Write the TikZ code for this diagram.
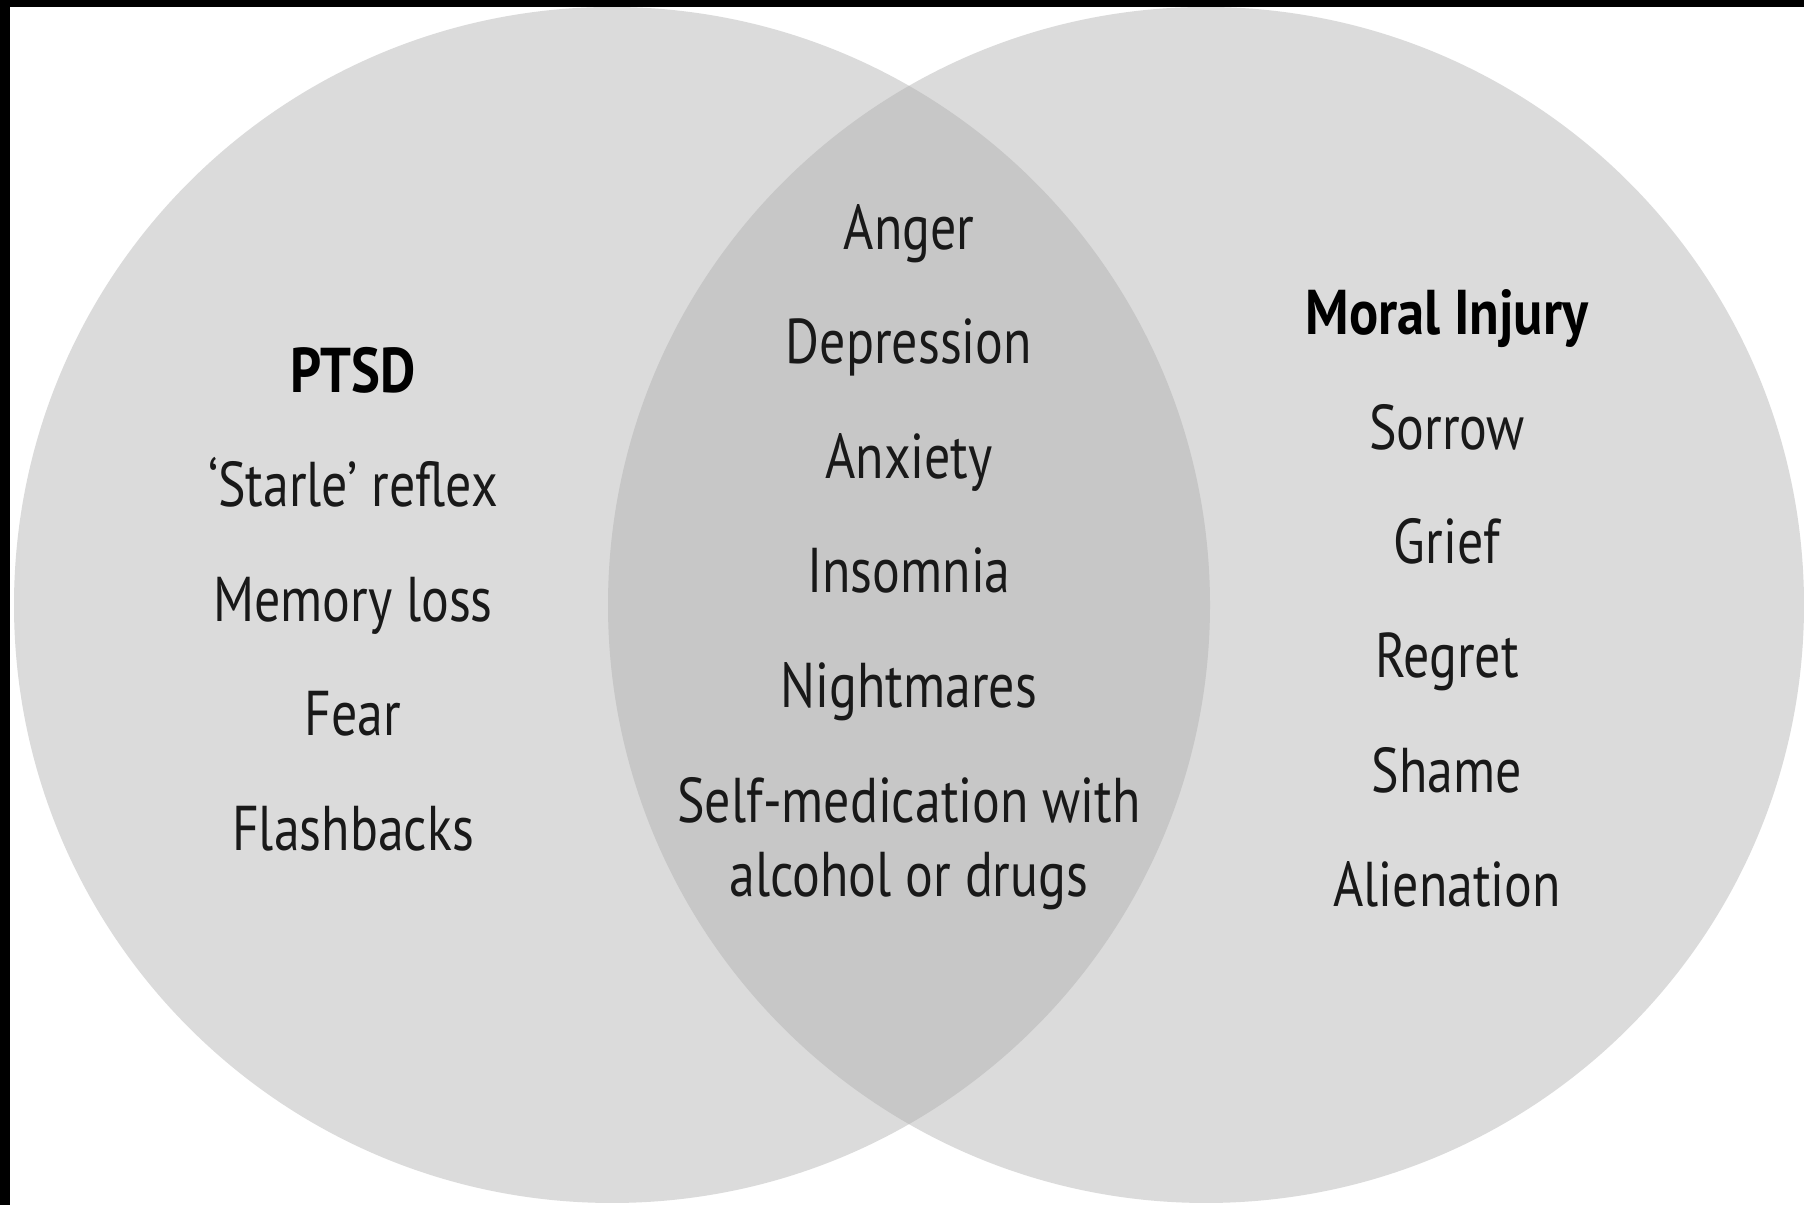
\documentclass[tikz,border=0pt]{standalone}
\usepackage{fontspec}
\setmainfont{PT Sans}[FakeStretch=0.82, BoldFeatures={FakeStretch=0.86}]
\usepackage{tikz}
\usetikzlibrary{positioning}

\definecolor{circlegray}{gray}{0.86}
\definecolor{lensgray}{gray}{0.78}

\tikzset{
    itemtext/.style={anchor=base, inner sep=0pt, font=\fontsize{18}{21.3}\selectfont, text=black!90},
    headtext/.style={itemtext, font=\fontsize{18}{21.3}\selectfont\bfseries, text=black}
}

\begin{document}
\begin{tikzpicture}[scale=1]

    \useasboundingbox (0,0) rectangle (18.04,12.05);
    \fill[white] (0,0) rectangle (18.04,12.05);

    % Two circles and their overlap
    \fill[circlegray] (6.12,6.00) circle (5.98);
    \fill[circlegray] (12.06,6.00) circle (5.98);
    \begin{scope}
        \clip (6.12,6.00) circle (5.98);
        \fill[lensgray] (12.06,6.00) circle (5.98);
    \end{scope}

    % Black edges of the scan
    \fill[black] (0,0) rectangle (0.10,12.05);
    \fill[black] (0,11.98) rectangle (18.04,12.05);

    % Left circle: PTSD
    \node[headtext] (ptsd) at (3.53,8.12) {PTSD};
    \node[itemtext] (starle) at (3.53,6.98) {`Starle' reflex};
    \node[itemtext] (memory) at (3.53,5.83) {Memory loss};
    \node[itemtext] (fear) at (3.53,4.69) {Fear};
    \node[itemtext] (flash) at (3.53,3.54) {Flashbacks};

    % Overlap: shared symptoms
    \node[itemtext] (anger) at (9.09,9.555) {Anger};
    \node[itemtext] (depress) at (9.09,8.41) {Depression};
    \node[itemtext] (anxiety) at (9.09,7.265) {Anxiety};
    \node[itemtext] (insomnia) at (9.09,6.12) {Insomnia};
    \node[itemtext] (nightmare) at (9.09,4.975) {Nightmares};
    \node[itemtext, align=center] (selfmed) at (9.09,3.08) {Self-medication with\\alcohol or drugs};

    % Right circle: Moral Injury
    \node[headtext] (moral) at (14.47,8.70) {Moral Injury};
    \node[itemtext] (sorrow) at (14.47,7.555) {Sorrow};
    \node[itemtext] (grief) at (14.47,6.41) {Grief};
    \node[itemtext] (regret) at (14.47,5.27) {Regret};
    \node[itemtext] (shame) at (14.47,4.12) {Shame};
    \node[itemtext] (alien) at (14.47,2.98) {Alienation};

\end{tikzpicture}
\end{document}
